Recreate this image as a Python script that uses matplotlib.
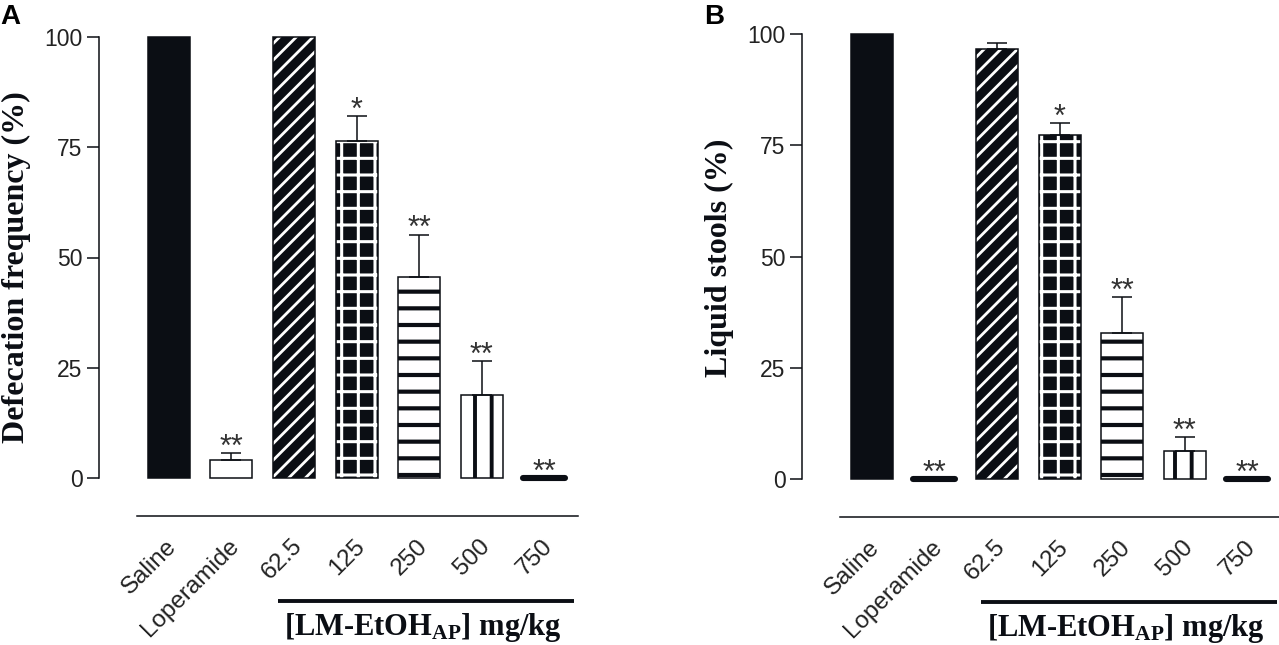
import matplotlib
matplotlib.use('Agg')
import matplotlib.pyplot as plt
import numpy as np

# ---------------- data ----------------
categories = ['Saline', 'Loperamide', '62.5', '125', '250', '500', '750']
yticks = [0, 25, 50, 75, 100]

defecation_mean = [100, 4.0, 100, 76.5, 45.6, 18.8, 0]
defecation_sem = [0, 1.7, 0, 5.5, 9.6, 7.7, 0]
defecation_sig = ['', '**', '', '*', '**', '**', '**']

liquid_mean = [100, 0, 96.7, 77.4, 32.7, 6.4, 0]
liquid_sem = [0, 0, 1.3, 2.6, 8.2, 3.0, 0]
liquid_sig = ['', '**', '', '*', '**', '**', '**']

# ---------------- style ----------------
DARK = '#0b0e14'
TICKC = '#222222'
plt.rcParams['hatch.linewidth'] = 2.2
plt.rcParams['mathtext.fontset'] = 'custom'
plt.rcParams['mathtext.rm'] = 'Liberation Serif:bold'
plt.rcParams['mathtext.bf'] = 'Liberation Serif:bold'
plt.rcParams['mathtext.it'] = 'Liberation Serif:bold'

bar_styles = [
    dict(fc=DARK, hatch=None, hc=None, hlw=2.2),
    dict(fc='white', hatch=None, hc=None, hlw=2.2),
    dict(fc=DARK, hatch='//', hc='white', hlw=2.0),
    dict(fc=DARK, hatch='+', hc='white', hlw=2.2),
    dict(fc='white', hatch='-', hc=DARK, hlw=3.0),
    dict(fc='white', hatch='|', hc=DARK, hlw=2.8),
    dict(fc=DARK, hatch=None, hc=None, hlw=2.2),
]

FW, FH = 1279, 645
fig = plt.figure(figsize=(FW / 100, FH / 100), dpi=100)

SP = 62.6          # px per category
BW = 0.67          # bar width (category units)


def make_axes(left_px, y0_px, y100_px):
    h = y0_px - y100_px
    w = 478
    ax = fig.add_axes([left_px / FW, (FH - y0_px) / FH, w / FW, h / FH])
    ax.set_xlim(-1.115, -1.115 + w / SP)
    ax.set_ylim(0, 100)
    return ax, h


def panel(ax, h, means, sems, sigs, ylabel, ylab_xy, letter_xy, letter):
    for i, (m, s, sig) in enumerate(zip(means, sems, sigs)):
        st = bar_styles[i]
        if m == 0:
            ax.bar(i, m, width=BW, color=DARK, edgecolor=DARK, linewidth=4.4,
                   joinstyle='round', capstyle='round', clip_on=False, zorder=3)
        elif st['hatch']:
            with plt.rc_context({'hatch.linewidth': st['hlw']}):
                b = ax.bar(i, m, width=BW, color=st['fc'], edgecolor=st['hc'],
                           linewidth=0, hatch=st['hatch'], clip_on=False, zorder=2)
                for p in b.patches:
                    if hasattr(p, 'set_hatch_linewidth'):
                        p.set_hatch_linewidth(st['hlw'])
            ax.bar(i, m, width=BW, fill=False, edgecolor=DARK, linewidth=1.1,
                   clip_on=False, zorder=3)
        else:
            ax.bar(i, m, width=BW, color=st['fc'], edgecolor=DARK, linewidth=1.1,
                   clip_on=False, zorder=3)
        if s > 0:
            ax.errorbar(i, m, yerr=[[0], [s]], fmt='none', ecolor=DARK,
                        elinewidth=1.1, capsize=7.5, capthick=1.1, zorder=4,
                        clip_on=False)
        if sig:
            ax.annotate(sig, xy=(i, m + s), xytext=(0, -2), textcoords='offset points',
                        ha='center', va='baseline', fontsize=22, color='#333333',
                        family='Liberation Sans', annotation_clip=False)

    for sp in ['top', 'right', 'bottom']:
        ax.spines[sp].set_visible(False)
    ax.spines['left'].set_linewidth(1.1)
    ax.spines['left'].set_color(DARK)
    ax.spines['left'].set_bounds(0, 100)
    ax.set_yticks(yticks)
    ax.set_yticklabels([str(t) for t in yticks], family='Liberation Sans',
                       fontsize=16.5, color=TICKC)
    ax.tick_params(axis='y', length=8.3, width=1.1, pad=3.5, color=DARK)
    ax.set_xticks([])

    xt = ax.get_xaxis_transform()
    # thin separator line
    ax.plot([-0.51, 6.533], [-37.7 / h] * 2, transform=xt, color=DARK, lw=1.1,
            clip_on=False)
    # rotated category labels
    for i, lab in enumerate(categories):
        ax.text(i + 0.2, -57 / h, lab, transform=xt, rotation=45, ha='right',
                va='top', fontsize=17.5, family='Liberation Sans', color=TICKC)
    # thick dose bracket line
    ax.plot([1.746, 6.474], [-122.7 / h] * 2, transform=xt, color=DARK, lw=2.8,
            clip_on=False, solid_capstyle='butt')
    ax.text(4.06, -157 / h, r'[LM-EtOH$_{\mathrm{AP}}$] mg/kg', transform=xt,
            ha='center', va='baseline', fontsize=22, fontweight='bold',
            family='Liberation Serif', color=DARK)

    fig.text(ylab_xy[0] / FW, 1 - ylab_xy[1] / FH, ylabel, rotation=90,
             ha='center', va='center', fontsize=23, fontweight='bold',
             family='Liberation Serif', color=DARK)
    fig.text(letter_xy[0] / FW, 1 - letter_xy[1] / FH, letter, ha='left', va='top',
             fontsize=20, fontweight='bold', family='Liberation Sans', color='black')


axA, hA = make_axes(99, 478, 37)
panel(axA, hA, defecation_mean, defecation_sem, defecation_sig,
      'Defecation frequency (%)', (16, 267), (0, 4), 'A')

axB, hB = make_axes(802, 479, 34)
panel(axB, hB, liquid_mean, liquid_sem, liquid_sig,
      'Liquid stools (%)', (719, 258), (704, 4), 'B')

fig.savefig('out.png', dpi=100)
